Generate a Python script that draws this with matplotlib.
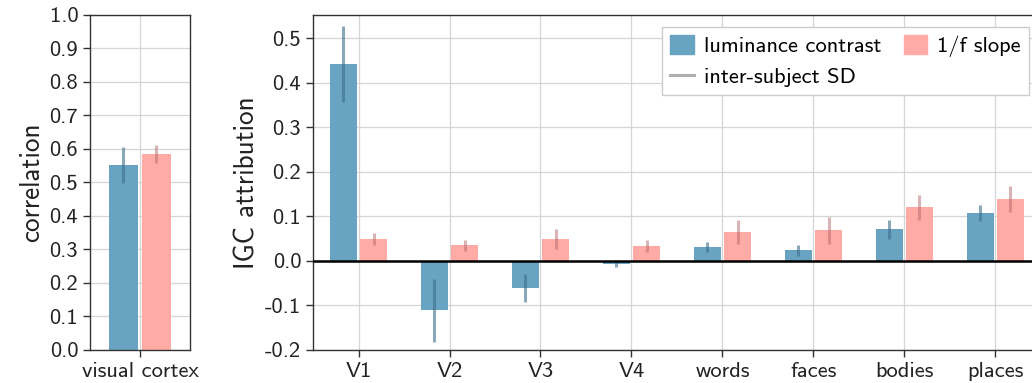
import numpy as np
import matplotlib
matplotlib.use("Agg")
import matplotlib.pyplot as plt
from matplotlib.patches import Patch
from matplotlib.lines import Line2D

plt.rcParams['font.family'] = ['cmss10', 'DejaVu Sans']
plt.rcParams['axes.unicode_minus'] = False

# correlation with visual cortex
corr_labels = ['visual cortex']
corr_lum = [0.552]
corr_lum_sd = [0.054]
corr_slope = [0.585]
corr_slope_sd = [0.026]

# IGC attribution per region
regions = ['V1', 'V2', 'V3', 'V4', 'words', 'faces', 'bodies', 'places']
igc_lum = [0.442, -0.111, -0.061, -0.006, 0.031, 0.024, 0.071, 0.107]
igc_lum_sd = [0.085, 0.070, 0.031, 0.008, 0.012, 0.012, 0.021, 0.018]
igc_slope = [0.049, 0.035, 0.049, 0.033, 0.064, 0.069, 0.120, 0.139]
igc_slope_sd = [0.014, 0.013, 0.022, 0.013, 0.027, 0.030, 0.028, 0.029]

blue = '#68a4c2'
pink = '#ffaaa5'
blue_err = '#3d6f8c'
pink_err = '#b56a6a'
w = 0.29
off = 0.165
fs = 16.2
lab_fs = 19.6


def style_axis(ax):
    ax.grid(True, color='#d5d5d5', lw=0.9)
    ax.set_axisbelow(True)
    for s in ax.spines.values():
        s.set_color('#333333')
        s.set_linewidth(1.0)
    ax.tick_params(labelsize=fs, length=5, width=1.0, color='#333333', labelcolor='#222222')


def draw_bars(ax, x, lum, lum_sd, slope, slope_sd):
    ax.bar(x - off, lum, w, color=blue, zorder=2)
    ax.bar(x + off, slope, w, color=pink, zorder=2)
    ax.errorbar(x - off, lum, yerr=lum_sd, fmt='none', ecolor=blue_err, alpha=0.6, elinewidth=2.2, zorder=3)
    ax.errorbar(x + off, slope, yerr=slope_sd, fmt='none', ecolor=pink_err, alpha=0.5, elinewidth=2.2, zorder=3)


fig = plt.figure(figsize=(10.32, 3.83), dpi=100)

# left panel
ax1 = fig.add_axes([0.0872, 0.0862, 0.0969, 0.8747])
x1 = np.arange(len(corr_labels))
draw_bars(ax1, x1, corr_lum, corr_lum_sd, corr_slope, corr_slope_sd)
ax1.set_xlim(-0.5, 0.5)
ax1.set_ylim(0, 1)
ax1.set_yticks(np.arange(0, 1.01, 0.1))
ax1.set_yticklabels(['%.1f' % v for v in np.arange(0, 1.01, 0.1)])
ax1.set_xticks(x1)
ax1.set_xticklabels(corr_labels)
ax1.set_ylabel('correlation', fontsize=lab_fs, color='#222222')
style_axis(ax1)

# right panel
ax2 = fig.add_axes([0.3033, 0.0862, 0.7054, 0.8747])
x2 = np.arange(len(regions))
draw_bars(ax2, x2, igc_lum, igc_lum_sd, igc_slope, igc_slope_sd)
ax2.axhline(0, color='black', lw=1.8, zorder=4)
ax2.set_xlim(-0.5, 7.5)
ax2.set_ylim(-0.2, 0.552)
yt = np.arange(-0.2, 0.51, 0.1)
ax2.set_yticks(yt)
ax2.set_yticklabels(['%.1f' % v for v in yt])
ax2.set_xticks(x2)
ax2.set_xticklabels(regions)
ax2.set_ylabel('IGC attribution', fontsize=lab_fs, color='#222222')
style_axis(ax2)

handles = [Patch(color=blue, label='luminance contrast'),
           Line2D([], [], color='#b0b0b0', lw=2.2, label='inter-subject SD'),
           Patch(color=pink, label='1/f slope')]
leg = ax2.legend(handles=handles, ncol=2, loc='upper right', bbox_to_anchor=(0.9835, 0.964),
                 borderaxespad=0, fontsize=fs, frameon=True, fancybox=False, edgecolor='#cccccc',
                 handlelength=1.05, handleheight=0.9, handletextpad=0.45, columnspacing=1.0,
                 borderpad=0.35, labelspacing=0.45, framealpha=1)
leg.get_frame().set_linewidth(1.0)

fig.savefig('out.png', dpi=100)
